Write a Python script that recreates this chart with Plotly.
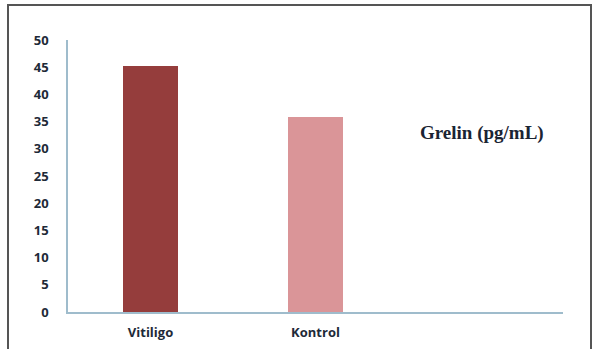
import plotly.graph_objects as go

categories = ["Vitiligo", "Kontrol"]
values = [45.2, 35.9]
bar_colors = ["#953d3c", "#da9598"]
y_ticks = [0, 5, 10, 15, 20, 25, 30, 35, 40, 45, 50]
label = "Grelin (pg/mL)"

W, H = 597, 349
L, R, T, B = 68, 34, 40, 37
pw, ph = W - L - R, H - T - B

fig = go.Figure()
fig.add_trace(go.Bar(x=categories, y=values, marker=dict(color=bar_colors, line=dict(width=0)),
                     width=0.33, showlegend=False))

fig.update_layout(
    width=W, height=H,
    margin=dict(l=L, r=R, t=T, b=B, pad=0, autoexpand=False),
    paper_bgcolor="white", plot_bgcolor="white",
    xaxis=dict(type="category", range=[-0.5, 2.5], showgrid=False, zeroline=False,
               showline=True, linecolor="#9fbccc", linewidth=1.5, ticks="", automargin=False,
               tickfont=dict(family="Open Sans", size=13, color="#1e2a38", weight="bold"),
               ticklabelstandoff=8),
    yaxis=dict(range=[0, 50], tickvals=y_ticks, showgrid=False, zeroline=False,
               showline=True, linecolor="#9fbccc", linewidth=1.5, ticks="", automargin=False,
               tickfont=dict(family="Open Sans", size=13, color="#1e2a38", weight="bold"),
               ticklabelstandoff=15),
    bargap=0,
)

def px_x(x):
    return (x - L) / pw

def px_y(y):
    return (H - B - y) / ph

fig.add_shape(type="rect", xref="paper", yref="paper",
              x0=px_x(8), x1=px_x(591), y0=px_y(352), y1=px_y(5),
              line=dict(color="#555555", width=2), fillcolor="rgba(0,0,0,0)")

fig.add_annotation(xref="paper", yref="paper", x=px_x(482), y=px_y(133),
                   text=label, showarrow=False, xanchor="center", yanchor="middle",
                   font=dict(family="Liberation Serif", size=19, color="#1a2433", weight="bold"))

fig.write_html("out.html")
